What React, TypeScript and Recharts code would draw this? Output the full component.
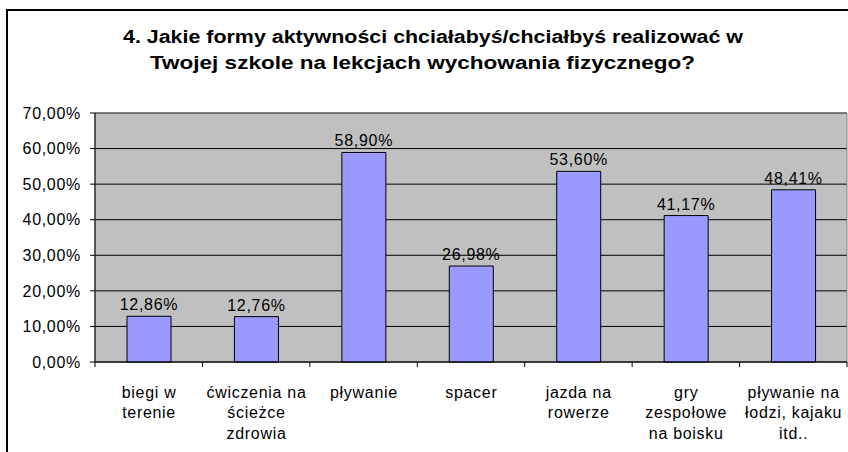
import React from "react";
import { BarChart, Bar, XAxis, YAxis, CartesianGrid, LabelList, ReferenceArea } from "recharts";

const categories = [
  "biegi w\nterenie",
  "ćwiczenia na\nścieżce\nzdrowia",
  "pływanie",
  "spacer",
  "jazda na\nrowerze",
  "gry\nzespołowe\nna boisku",
  "pływanie na\nłodzi, kajaku\nitd..",
];

const values = [12.86, 12.76, 58.9, 26.98, 53.6, 41.17, 48.41];

const yTicks = [0, 10, 20, 30, 40, 50, 60, 70];

const titleLines = [
  "4. Jakie formy aktywności chciałabyś/chciałbyś realizować w",
  "Twojej szkole na lekcjach wychowania fizycznego?",
];

const data = categories.map((name, i) => ({ name, value: values[i] }));

const FONT = '"Liberation Sans", Arial, sans-serif';
const W = 848;
const H = 452;
const SPACING = 0.7; // the source renders its text a little wide

// where each title line sits in the source: [left, width, baseline]
const TITLE_BOX = [
  [123, 620, 43],
  [150, 545, 68.5],
];

const pct = (v: number) => v.toFixed(2).replace(".", ",") + "%";

// category label with Excel-style tick marks on the band boundaries
function CategoryTick(props: any) {
  const { x, y, payload, index } = props;
  const half = payload && payload.offset ? payload.offset : (W - 95 - 1) / categories.length / 2;
  const lines = String(payload.value).split("\n");
  return (
    <g>
      <line x1={x - half} x2={x - half} y1={y} y2={y + 5} stroke="#000" />
      {index === categories.length - 1 && (
        <line x1={x + half} x2={x + half} y1={y} y2={y + 5} stroke="#000" />
      )}
      <text
        textAnchor="middle"
        fontFamily={FONT}
        fontSize={16}
        fill="#000"
        style={{ letterSpacing: SPACING }}
      >
        {lines.map((l, i) => (
          <tspan key={i} x={x + SPACING / 2} y={y + 35.5 + i * 20.5}>
            {l}
          </tspan>
        ))}
      </text>
    </g>
  );
}

export default function App() {
  return (
    <div
      style={{
        position: "absolute",
        left: 0,
        top: 0,
        width: W,
        height: H,
        overflow: "hidden",
        background: "#fff",
        fontFamily: FONT,
      }}
    >
      <div
        style={{
          position: "absolute",
          left: 6,
          top: 9,
          width: 900,
          height: 500,
          borderLeft: "2px solid #000",
          borderTop: "2px solid #000",
        }}
      />
      <svg width={W} height={100} style={{ position: "absolute", left: 0, top: 0 }}>
        {titleLines.map((t, i) => (
          <text
            key={i}
            x={TITLE_BOX[i][0]}
            y={TITLE_BOX[i][2]}
            textLength={TITLE_BOX[i][1]}
            lengthAdjust="spacingAndGlyphs"
            fontFamily={FONT}
            fontWeight="bold"
            fontSize={18}
            fill="#000"
          >
            {t}
          </text>
        ))}
      </svg>
      <div style={{ position: "absolute", left: 0, top: 0 }}>
        <BarChart width={W} height={H} data={data} margin={{ top: 113, right: 1, bottom: 0, left: 0 }}>
          <CartesianGrid vertical={false} stroke="#000" fill="#C0C0C0" fillOpacity={1} />
          <ReferenceArea y1={0} y2={70} fill="none" stroke="#808080" ifOverflow="visible" />
          <XAxis
            dataKey="name"
            height={90}
            interval={0}
            tickSize={0}
            tickMargin={0}
            tickLine={false}
            axisLine={{ stroke: "#000" }}
            tick={<CategoryTick />}
          />
          <YAxis
            width={95}
            domain={[0, 70]}
            ticks={yTicks}
            tickFormatter={pct}
            tickSize={5}
            tickMargin={9}
            tickLine={{ stroke: "#000" }}
            axisLine={{ stroke: "#000" }}
            tick={{ fill: "#000", fontSize: 16, fontFamily: FONT, style: { letterSpacing: SPACING } }}
          />
          <Bar dataKey="value" fill="#9999FF" stroke="#000" strokeWidth={1} barSize={44} isAnimationActive={false}>
            <LabelList
              dataKey="value"
              position="top"
              offset={6}
              formatter={(v: any) => pct(Number(v))}
              fill="#000"
              fontSize={16}
              fontFamily={FONT}
              style={{ letterSpacing: SPACING }}
            />
          </Bar>
        </BarChart>
      </div>
    </div>
  );
}
